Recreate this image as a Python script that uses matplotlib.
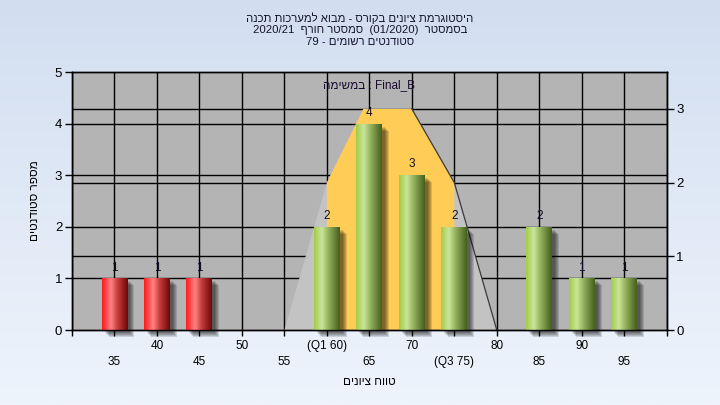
import matplotlib
matplotlib.use("Agg")
import matplotlib.pyplot as plt
import matplotlib.transforms as mtrans
import numpy as np
from matplotlib.colors import LinearSegmentedColormap
from matplotlib.patches import Polygon, Rectangle

plt.rcParams['font.family'] = ['Liberation Sans', 'DejaVu Sans']

# data
scores = [35, 40, 45, 50, 55, 60, 65, 70, 75, 80, 85, 90, 95]
tick_labels = ['35', '40', '45', '50', '55', '(Q1 60)', '65', '70', '(Q3 75)',
               '80', '85', '90', '95']
counts = [1, 1, 1, 0, 0, 2, 4, 3, 2, 0, 2, 1, 1]
fail_below = 55

# spread shape (right axis units)
range_scores = [55, 60, 64.3, 70, 75, 80]
range_levels = [0, 2, 3, 3, 2, 0]

title_lines = ['היסטוגרמת ציונים בקורס - מבוא למערכות תכנה',
               'בסמסטר  (01/2020)  סמסטר חורף  2020/21',
               'סטודנטים רשומים - 79']
task_label = 'במשימה : Final_B'
xlabel = 'טווח ציונים'
ylabel = 'מספר סטודנטים'


def bidi_visual(s):
    # small left-to-right paragraph bidi reordering (matplotlib draws in logical order)
    def kind(c):
        if '\u0590' <= c <= '\u05ff':
            return 'R'
        if c.isdigit():
            return 'EN'
        if c.isalpha():
            return 'L'
        return 'N'
    t = [kind(c) for c in s]
    for i in range(1, len(s) - 1):
        if s[i] in '/.,:' and t[i - 1] == 'EN' and kind(s[i + 1]) == 'EN':
            t[i] = 'EN'
    last = 'L'
    for i, k in enumerate(t):
        if k in ('L', 'R'):
            last = k
        elif k == 'EN' and last == 'L':
            t[i] = 'L'
    strong = ['R' if k == 'EN' else k for k in t]
    res = list(t)
    for i, k in enumerate(t):
        if k == 'N':
            prev = next((strong[j] for j in range(i - 1, -1, -1) if strong[j] != 'N'), 'L')
            nxt = next((strong[j] for j in range(i + 1, len(t)) if strong[j] != 'N'), 'L')
            res[i] = prev if prev == nxt else 'L'
    levels = [{'L': 0, 'R': 1, 'EN': 2}[k] for k in res]
    mirror = {'(': ')', ')': '('}
    chars = [mirror.get(c, c) if lv % 2 else c for c, lv in zip(s, levels)]
    order = list(range(len(s)))
    for lv in range(max(levels, default=0), 0, -1):
        i = 0
        while i < len(order):
            if levels[order[i]] >= lv:
                j = i
                while j < len(order) and levels[order[j]] >= lv:
                    j += 1
                order[i:j] = order[i:j][::-1]
                i = j
            else:
                i += 1
    return ''.join(chars[k] for k in order)


fig = plt.figure(figsize=(7.2, 4.05), dpi=100)

# gradient background
bg = fig.add_axes([0, 0, 1, 1], zorder=-10)
bg.imshow(np.linspace(0, 1, 256)[:, None], aspect='auto', extent=(0, 1, 0, 1),
          cmap=LinearSegmentedColormap.from_list('bg', ['#d2def0', '#eef4fc']))
bg.axis('off')

ax = fig.add_axes([0.1, 0.185, 0.826, 0.637])
ax.set_facecolor('#b4b4b4')
ax2 = ax.twinx()

x = np.arange(len(scores))
ax.set_xlim(-1, 13)
ax.set_ylim(0, 5)
ax2.set_ylim(0, 3.5)
ax.set_autoscale_on(False)

# grid lines
for xi in range(-1, 14):
    ax.axvline(xi, color='black', lw=1, zorder=1)
for yv in range(1, 5):
    ax.axhline(yv, color='black', lw=1, zorder=1)
right_tr = mtrans.blended_transform_factory(ax.transAxes, ax2.transData)
for yv in range(1, 4):
    ax.plot([0, 1], [yv, yv], color='black', lw=1, transform=right_tr, zorder=1)


# spread shape
def to_idx(s):
    return (s - scores[0]) / 5.0


pts = [(to_idx(s), l) for s, l in zip(range_scores, range_levels)]
ax.add_patch(Polygon(pts, closed=True, facecolor='#c3c3c3', edgecolor='none',
                     transform=ax2.transData, zorder=1.5))
orange = [(to_idx(range_scores[1]), 0)] + pts[1:5] + [(to_idx(range_scores[4]), 0)]
ax.add_patch(Polygon(orange, closed=True, facecolor='#ffcc55', edgecolor='none',
                     transform=ax2.transData, zorder=1.6))
rx = [to_idx(s) for s in range_scores[3:]]
ax.plot(rx, range_levels[3:], color='#3a3a3a', lw=0.9, transform=ax2.transData,
        zorder=1.7)

# bars with gradient and shadow
green = LinearSegmentedColormap.from_list(
    'g', [(0, '#a2cc48'), (0.3, '#cae59a'), (0.55, '#96b460'), (1, '#44601c')])
red = LinearSegmentedColormap.from_list(
    'r', [(0, '#ff1c1c'), (0.35, '#ff8282'), (0.6, '#c83c3c'), (1, '#700808')])
width = 0.61
rects = ax.bar(x, counts, width=width, color='none', edgecolor='none', zorder=3)
grad = np.linspace(0, 1, 64)[None, :]
for xi, v, s, rect in zip(x, counts, scores, rects):
    if v == 0:
        continue
    for off in [3, 4, 5, 6, 7]:
        sh = Rectangle((xi - width / 2, 0), width, v, facecolor='black', alpha=0.13,
                       edgecolor='none', clip_on=False, zorder=2.5,
                       transform=ax.transData + mtrans.ScaledTranslation(
                           off / 100, -off / 100, fig.dpi_scale_trans))
        ax.add_patch(sh)
    im = ax.imshow(grad, cmap=red if s < fail_below else green, aspect='auto',
                   extent=(xi - width / 2, xi + width / 2, 0, v), zorder=3)
    im.set_clip_path(rect)
    ax.annotate(str(v), (xi, v), xytext=(0, 3.5), textcoords='offset points',
                ha='center', va='bottom', fontsize=8.5, color='#101028', zorder=5)

ax.set_xlim(-1, 13)
ax.set_ylim(0, 5)

# ticks
ax.set_xticks(range(-1, 14))
xt = [''] + [lbl if i % 2 else '\n' + lbl for i, lbl in enumerate(tick_labels)] + ['']
ax.set_xticklabels(xt)
for t in ax.get_xticklabels():
    t.set_linespacing(1.45)
ax.set_yticks(range(0, 6))
ax2.set_yticks(range(0, 4))
ax.tick_params(axis='x', direction='out', length=4, width=1, labelsize=8.5, pad=3)
ax.tick_params(axis='y', direction='out', length=5, width=1, labelsize=9.5, pad=2)
ax2.tick_params(axis='y', direction='out', length=5, width=1, labelsize=9.5, pad=2)
for a in (ax, ax2):
    for sp in a.spines.values():
        sp.set_color('black')
        sp.set_linewidth(1)

ax.set_xlabel(bidi_visual(xlabel), fontsize=8.5, labelpad=6)
ax.set_ylabel(bidi_visual(ylabel), fontsize=8.5, labelpad=10)

ax.text(0.5, 0.95, bidi_visual(task_label), transform=ax.transAxes, ha='center',
        va='center', fontsize=8.5, color='#1a0c30', zorder=6)

for i, line in enumerate(title_lines):
    fig.text(0.5, 1 - (18 + 12 * i) / 405, bidi_visual(line), ha='center',
             va='center', fontsize=8.2, color='#141430')

fig.savefig('out.png', dpi=100)
